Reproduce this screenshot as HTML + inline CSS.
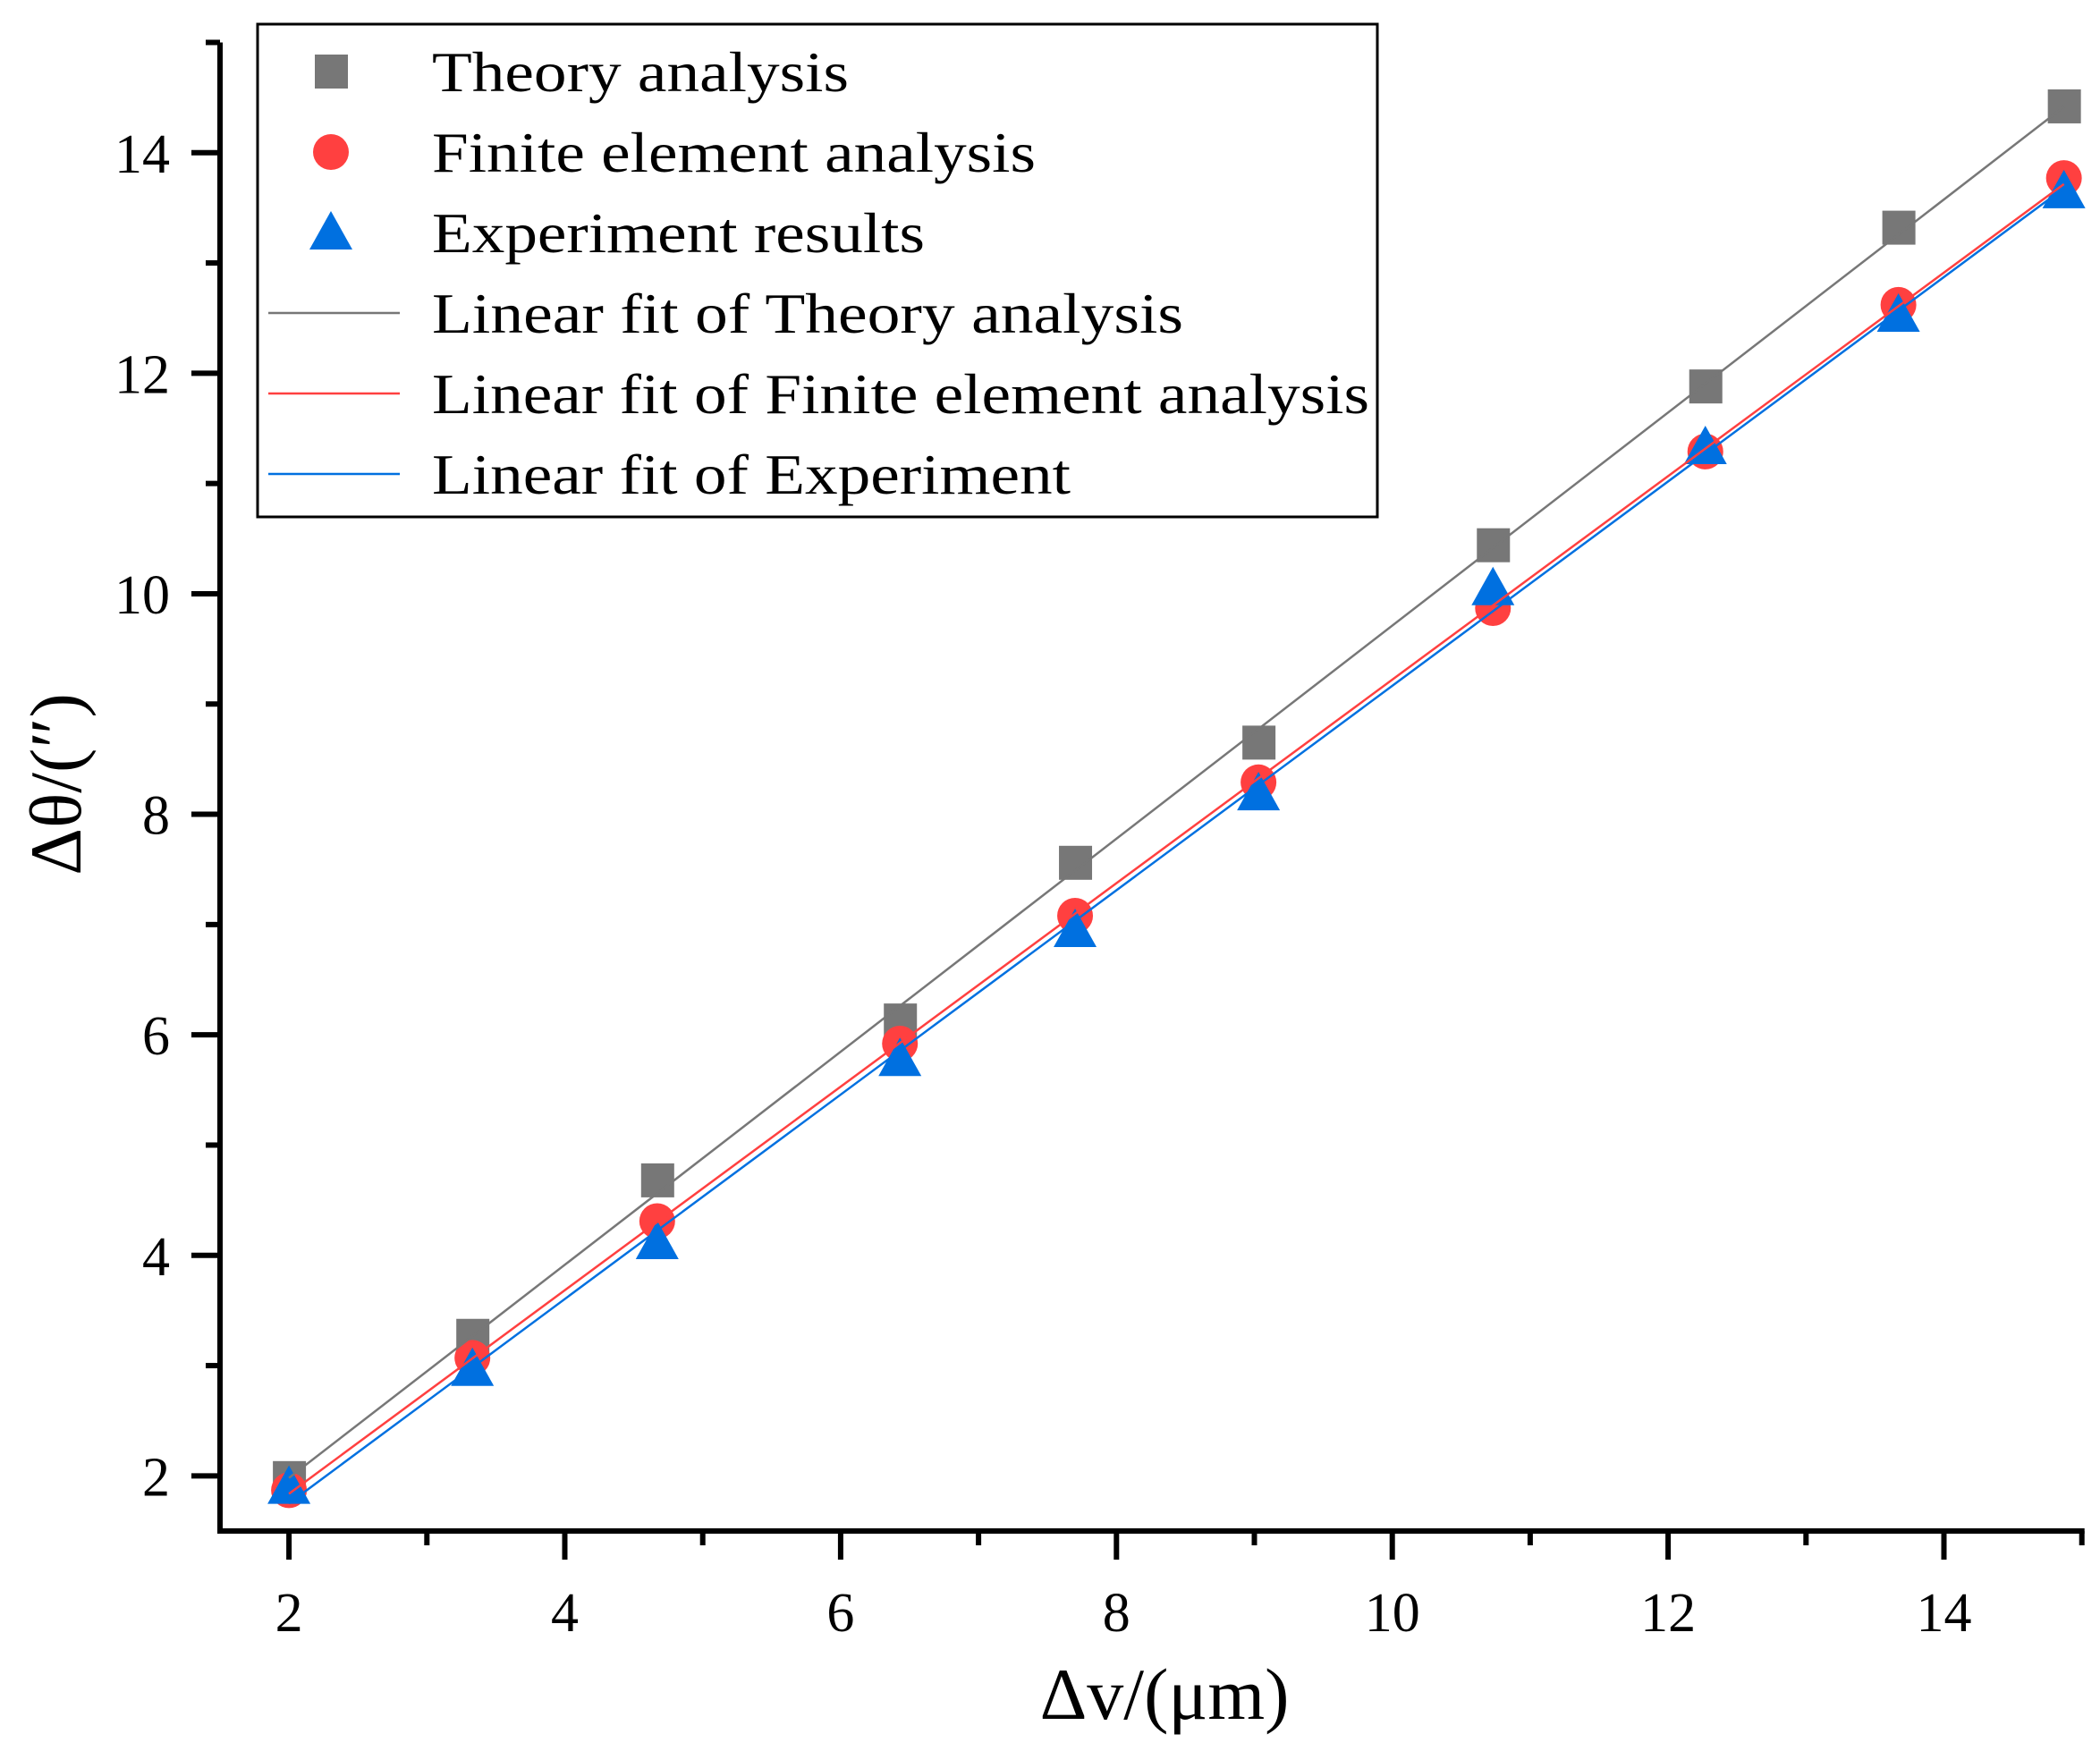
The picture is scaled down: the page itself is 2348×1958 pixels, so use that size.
<!DOCTYPE html>
<html><head><meta charset="utf-8"><style>html,body{margin:0;padding:0;background:#fff}svg{display:block}</style></head>
<body>
<svg id="chart" width="2348" height="1958" viewBox="0 0 2348 1958" xmlns="http://www.w3.org/2000/svg" font-family="'Liberation Serif', serif">
<g id="plot"></g>
<g id="axes"></g>
<text x="1302" y="1922" font-size="82" text-anchor="middle">Δv/(μm)</text>
<text transform="translate(90,877) rotate(-90)" font-size="82" text-anchor="middle">Δθ/(″)</text>
<g id="legend"></g>
</svg>
<script>
const xValues = [2, 3.33, 4.67, 6.43, 7.7, 9.03, 10.73, 12.27, 13.67, 14.87];
const theory = [1.98, 3.27, 4.68, 6.13, 7.56, 8.65, 10.44, 11.88, 13.32, 14.42];
const fea = [1.87, 3.07, 4.31, 5.92, 7.08, 8.29, 9.87, 11.29, 12.62, 13.77];
const experiment = [1.9, 2.97, 4.12, 5.78, 6.95, 8.19, 10.05, 11.33, 12.53, 13.65];
const xTicks = [2, 4, 6, 8, 10, 12, 14];
const yTicks = [2, 4, 6, 8, 10, 12, 14];
const xMinor = [3, 5, 7, 9, 11, 13, 15];
const yMinor = [3, 5, 7, 9, 11, 13, 15];

const NS = 'http://www.w3.org/2000/svg';
const X0 = 246, Y0 = 1712;
function sx(v){ return X0 + (v - 1.5) * 154.2; }
function sy(v){ return Y0 - (v - 1.5) * 123.3; }
function mk(tag, attrs, parent){ const e = document.createElementNS(NS, tag); for (const k in attrs) e.setAttribute(k, attrs[k]); parent.appendChild(e); return e; }
const plot = document.getElementById('plot'), axes = document.getElementById('axes'), legend = document.getElementById('legend');

function fit(xs, ys){ const n = xs.length; let mx=0,my=0; for(let i=0;i<n;i++){mx+=xs[i];my+=ys[i];} mx/=n; my/=n; let sxy=0,sxx=0; for(let i=0;i<n;i++){sxy+=(xs[i]-mx)*(ys[i]-my); sxx+=(xs[i]-mx)**2;} const b=sxy/sxx; return [b, my-b*mx]; }

function square(cx, cy, col, parent, name){ const e = mk('rect', {x:cx-18, y:cy-19, width:37, height:38, fill:col}, parent);

 }
function circle(cx, cy, col, parent, name){ const e = mk('circle', {cx:cx, cy:cy, r:20, fill:col}, parent);

 }
function tri(cx, cy, col, parent, name){ const e = mk('polygon', {points:`${cx},${cy-24} ${cx+24},${cy+19} ${cx-24},${cy+19}`, fill:col}, parent);

 }

const series = [
  {ys: theory, col:'#777777', m: square, name:'theory'},
  {ys: fea, col:'#ff4040', m: circle, name:'fea'},
  {ys: experiment, col:'#0070e0', m: tri, name:'experiment'}
];
series.forEach(s => { s.ys.forEach((v,i) => s.m(sx(xValues[i]), sy(v), s.col, plot, s.name + '-point')); });
series.forEach(s => { const [b,a] = fit(xValues, s.ys); const x1 = xValues[0], x2 = xValues[xValues.length-1];
  const l = mk('line', {x1:sx(x1), y1:sy(a+b*x1), x2:sx(x2), y2:sy(a+b*x2), stroke:s.col, 'stroke-width':2.5}, plot);
  
  
});

const ax = mk('line', {x1:X0, y1:Y0, x2:sx(15)+3, y2:Y0, stroke:'#000', 'stroke-width':6}, axes);


const ay = mk('line', {x1:X0, y1:Y0+3, x2:X0, y2:sy(15), stroke:'#000', 'stroke-width':6}, axes);


xTicks.forEach(v => { const t = mk('line', {x1:sx(v), y1:Y0, x2:sx(v), y2:Y0+32, stroke:'#000', 'stroke-width':6}, axes);
  
  
  const tl = mk('text', {x:sx(v), y:Y0+112, 'font-size':62, 'text-anchor':'middle'}, axes); tl.textContent = v;
  
   });
xMinor.forEach(v => { const t = mk('line', {x1:sx(v), y1:Y0, x2:sx(v), y2:Y0+16, stroke:'#000', 'stroke-width':6}, axes);
  
   });
yTicks.forEach(v => { const t = mk('line', {x1:X0, y1:sy(v), x2:X0-32, y2:sy(v), stroke:'#000', 'stroke-width':6}, axes);
  
  
  const tl = mk('text', {x:190, y:sy(v)+22, 'font-size':62, 'text-anchor':'end'}, axes); tl.textContent = v;
  
   });
yMinor.forEach(v => { const t = mk('line', {x1:X0, y1:sy(v), x2:X0-16, y2:sy(v), stroke:'#000', 'stroke-width':6}, axes);
  
   });

const box = mk('rect', {x:288, y:27, width:1252, height:551, fill:'#fff', stroke:'#000', 'stroke-width':3}, legend);


const labels = ['Theory analysis','Finite element analysis','Experiment results','Linear fit of Theory analysis','Linear fit of Finite element analysis','Linear fit of Experiment'];
const lens = [466, 675, 551, 840, 1048, 714];
const ly = [80,170,260,350,440,530];
series.forEach((s,i) => s.m(370, ly[i], s.col, legend, 'legend-marker-' + s.name));
series.forEach((s,i) => { const l = mk('line', {x1:300, y1:ly[i+3], x2:447, y2:ly[i+3], stroke:s.col, 'stroke-width':2.5}, legend);
  
   });
labels.forEach((t,i) => { const e = mk('text', {x:483, y:ly[i]+22, 'font-size':64, textLength:lens[i], lengthAdjust:'spacingAndGlyphs'}, legend); e.textContent = t;
  
   });
</script>
</body></html>
